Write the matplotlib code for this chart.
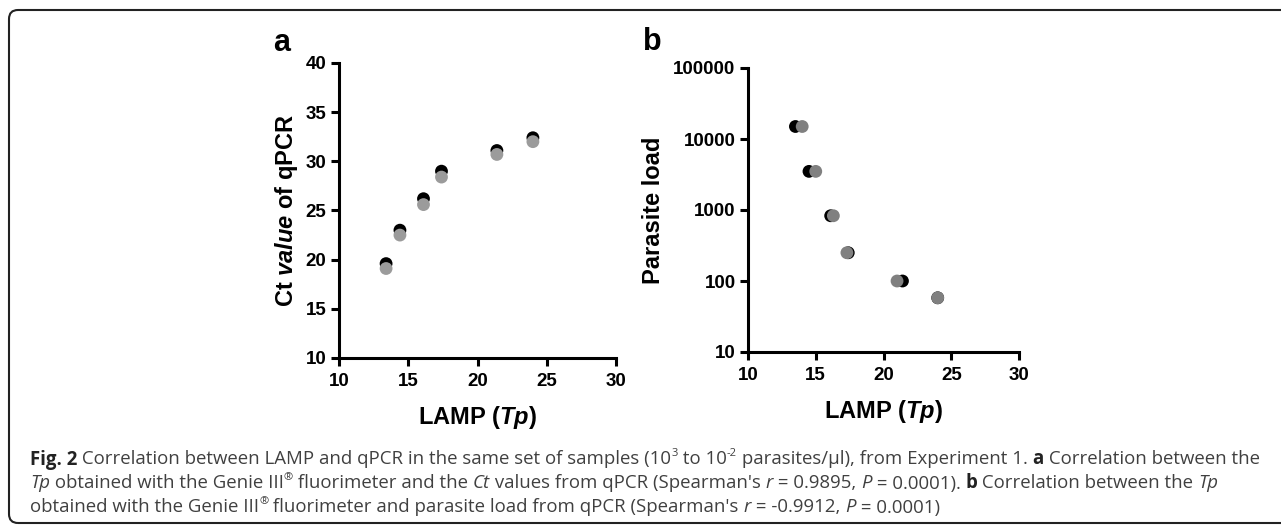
import matplotlib
matplotlib.use("Agg")
import matplotlib.pyplot as plt
from matplotlib.patches import FancyBboxPatch
from matplotlib.transforms import IdentityTransform

# ---------------- data ----------------
lamp_tp_a = [13.4, 14.4, 16.1, 17.4, 21.4, 24.0]
ct_black = [19.6, 23.0, 26.2, 29.0, 31.1, 32.4]
ct_gray = [19.1, 22.5, 25.6, 28.4, 30.7, 32.0]

lamp_tp_b_black = [13.5, 14.5, 16.1, 17.4, 21.4, 24.0]
lamp_tp_b_gray = [14.0, 15.0, 16.3, 17.3, 21.0, 24.0]
parasite_load = [15000, 3500, 830, 250, 100, 58]

x_ticks = [10, 15, 20, 25, 30]
ct_ticks = [10, 15, 20, 25, 30, 35, 40]
load_ticks = [10, 100, 1000, 10000, 100000]
load_tick_labels = ["10", "100", "1000", "10000", "100000"]

# ---------------- style ----------------
W, H, DPI = 1281, 525, 100
plt.rcParams['font.family'] = ['Liberation Sans', 'DejaVu Sans']
plt.rcParams['mathtext.fontset'] = 'custom'
plt.rcParams['mathtext.rm'] = 'Liberation Sans:bold'
plt.rcParams['mathtext.bf'] = 'Liberation Sans:bold'
plt.rcParams['mathtext.it'] = 'Liberation Sans:bold:italic'
plt.rcParams['mathtext.bfit'] = 'Liberation Sans:bold:italic'

fig = plt.figure(figsize=(W / DPI, H / DPI), dpi=DPI)


def px_rect(left, top, right, bottom):
    return [left / W, 1 - bottom / H, (right - left) / W, (bottom - top) / H]


TICK_FS = 13.5
LABEL_FS = 17


def style_axes(ax):
    for s in ['top', 'right']:
        ax.spines[s].set_visible(False)
    for s in ['left', 'bottom']:
        ax.spines[s].set_linewidth(2.2)
    ax.tick_params(axis='both', which='major', length=6, width=2.2,
                   labelsize=TICK_FS)
    ax.tick_params(axis='x', which='major', pad=5)
    ax.tick_params(axis='y', which='major', pad=3)
    ax.tick_params(axis='both', which='minor', length=0)
    for lab in ax.get_xticklabels() + ax.get_yticklabels():
        lab.set_fontweight('bold')


MS = 85
GRAY_A = '#9b9b9b'
GRAY_B = '#808080'

# ---- panel a ----
axa = fig.add_axes(px_rect(339, 63, 616, 358))
axa.scatter(lamp_tp_a, ct_black, s=MS, color='black', edgecolors='none', zorder=3, clip_on=False)
axa.scatter(lamp_tp_a, ct_gray, s=MS, color=GRAY_A, edgecolors='none', zorder=4, clip_on=False)
axa.set_xlim(10, 30)
axa.set_ylim(10, 40)
axa.set_xticks(x_ticks)
axa.set_yticks(ct_ticks)
style_axes(axa)
axa.set_ylabel(r"Ct $\mathbfit{value}$ of qPCR", fontsize=LABEL_FS, fontweight='bold', labelpad=4)
axa.set_xlabel(r"LAMP ($\mathbfit{Tp}$)", fontsize=LABEL_FS, fontweight='bold', labelpad=10)

# ---- panel b ----
axb = fig.add_axes(px_rect(748, 68, 1019, 352))
axb.scatter(lamp_tp_b_black, parasite_load, s=MS, color='black', edgecolors='none', zorder=3, clip_on=False)
axb.scatter(lamp_tp_b_gray, parasite_load, s=MS, color=GRAY_B, edgecolors='none', zorder=4, clip_on=False)
axb.set_yscale('log')
axb.set_xlim(10, 30)
axb.set_ylim(10, 100000)
axb.set_xticks(x_ticks)
axb.set_yticks(load_ticks)
axb.set_yticklabels(load_tick_labels)
axb.minorticks_off()
style_axes(axb)
axb.set_ylabel("Parasite load", fontsize=LABEL_FS, fontweight='bold', labelpad=6)
axb.set_xlabel(r"LAMP ($\mathbfit{Tp}$)", fontsize=LABEL_FS, fontweight='bold', labelpad=10)

# panel letters
fig.text(273 / W, 1 - 51 / H, "a", fontsize=22, fontweight='bold', ha='left', va='baseline')
fig.text(643 / W, 1 - 50 / H, "b", fontsize=22, fontweight='bold', ha='left', va='baseline')

# border
border = FancyBboxPatch((9, H - 523), 1300, 513,
                        boxstyle="round,pad=0,rounding_size=9",
                        transform=IdentityTransform(), facecolor='none',
                        edgecolor='#222222', linewidth=1.5)
fig.patches.append(border)

# ---------------- caption ----------------
CAP_FONT = ['Open Sans', 'DejaVu Sans']
CAP_COLOR = '#404040'
cap_lines = [
    [("Fig. 2", 'b'), (" Correlation between LAMP and qPCR in the same set of samples (10", 'n'),
     ("3", 'sup'), (" to 10", 'n'), ("-2", 'sup'),
     (" parasites/µl), from Experiment 1. ", 'n'), ("a", 'b'), (" Correlation between the", 'n')],
    [("Tp", 'i'), (" obtained with the Genie III", 'n'), ("®", 'sup'),
     (" fluorimeter and the ", 'n'), ("Ct", 'i'), (" values from qPCR (Spearman's ", 'n'),
     ("r", 'i'), (" = 0.9895, ", 'n'), ("P", 'i'), (" = 0.0001). ", 'n'), ("b", 'b'),
     (" Correlation between the ", 'n'), ("Tp", 'i')],
    [("obtained with the Genie III", 'n'), ("®", 'sup'),
     (" fluorimeter and parasite load from qPCR (Spearman's ", 'n'), ("r", 'i'),
     (" = -0.9912, ", 'n'), ("P", 'i'), (" = 0.0001)", 'n')],
]
cap_y = [460, 484, 508]
cap_x0 = 30
target_w = 1232

renderer = fig.canvas.get_renderer()


def draw_line(pieces, x0, ybase, fs, draw=True):
    x = x0
    made = []
    for txt, kind in pieces:
        kw = dict(fontsize=fs, family=CAP_FONT, color=CAP_COLOR,
                  transform=IdentityTransform(), va='baseline', ha='left')
        yy = ybase
        if kind == 'b':
            kw['fontweight'] = 'bold'
            kw['color'] = '#222222'
        elif kind == 'i':
            kw['style'] = 'italic'
        elif kind == 'sup':
            kw['fontsize'] = fs * 0.6
            yy = ybase + fs * 0.45 * DPI / 72
        t = fig.text(x, yy, txt, **kw)
        bb = t.get_window_extent(renderer)
        x = x + bb.width
        made.append(t)
    if not draw:
        for t in made:
            t.remove()
    return x - x0


fs = 11.5
w = draw_line(cap_lines[0], cap_x0, 0, fs, draw=False)
fs = fs * target_w / w

for pieces, yc in zip(cap_lines, cap_y):
    base = H - yc - 4.5
    draw_line(pieces, cap_x0, base, fs)

fig.savefig("out.png", dpi=DPI)
